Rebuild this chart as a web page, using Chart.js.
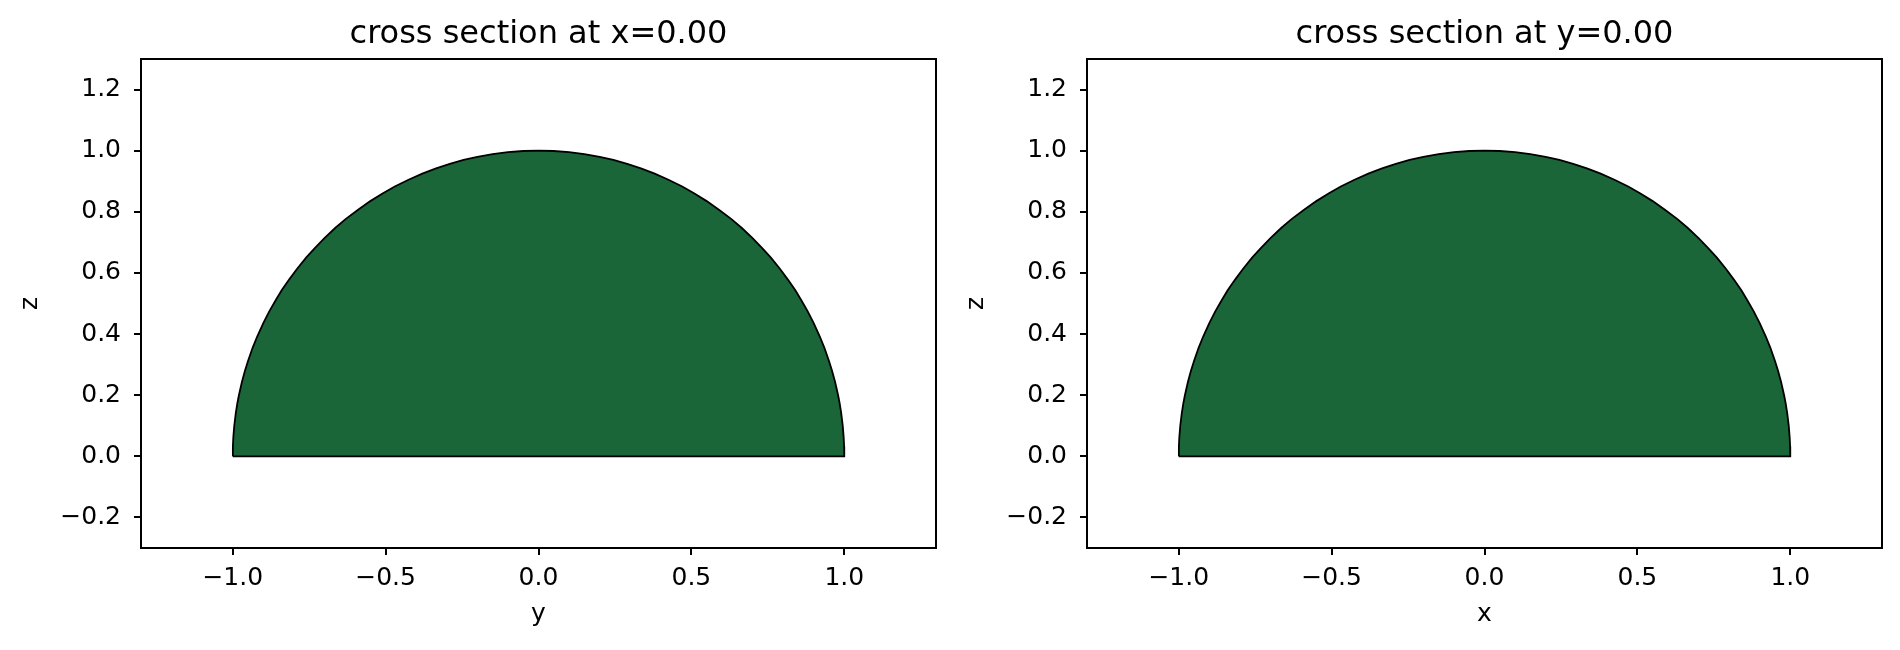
<!DOCTYPE html>
<html>
<head>
<meta charset="utf-8">
<script src="https://cdn.jsdelivr.net/npm/chart.js@4.4.1/dist/chart.umd.min.js"></script>
<style>
  html, body { margin: 0; padding: 0; background: #fff; }
  #wrap { position: relative; width: 1900px; height: 650px; overflow: hidden; }
  .panel { position: absolute; top: 0; width: 950px; height: 650px; }
</style>
</head>
<body>
<div id="wrap">
  <div class="panel" style="left:0"><canvas id="leftChart" width="950" height="650"></canvas></div>
  <div class="panel" style="left:946px"><canvas id="rightChart" width="950" height="650"></canvas></div>
</div>
<script>
// outline of the cross section (both panels show the same half disc)
// start at the left corner, go over the top, then back along z=0
const outlineH = [
  -1.000, -0.9995, -0.998, -0.995, -0.990, -0.985, -0.980, -0.970, -0.960, -0.950,
  -0.935, -0.920, -0.900, -0.880, -0.860, -0.840, -0.815, -0.790, -0.760, -0.730,
  -0.700, -0.665, -0.630, -0.590, -0.550, -0.510, -0.470, -0.425, -0.380, -0.335,
  -0.290, -0.245, -0.200, -0.150, -0.100, -0.050, 0.000,
  0.050, 0.100, 0.150, 0.200, 0.245, 0.290, 0.335, 0.380, 0.425, 0.470,
  0.510, 0.550, 0.590, 0.630, 0.665, 0.700, 0.730, 0.760, 0.790, 0.815,
  0.840, 0.860, 0.880, 0.900, 0.920, 0.935, 0.950, 0.960, 0.970, 0.980,
  0.985, 0.990, 0.995, 0.998, 0.9995, 1.000,
  -1.000
];
const outlineZ = [
  0.000, 0.032, 0.063, 0.100, 0.141, 0.173, 0.199, 0.243, 0.280, 0.312,
  0.355, 0.392, 0.436, 0.475, 0.510, 0.543, 0.579, 0.613, 0.650, 0.683,
  0.714, 0.747, 0.777, 0.807, 0.835, 0.860, 0.883, 0.905, 0.925, 0.942,
  0.957, 0.970, 0.980, 0.989, 0.995, 0.999, 1.000,
  0.999, 0.995, 0.989, 0.980, 0.970, 0.957, 0.942, 0.925, 0.905, 0.883,
  0.860, 0.835, 0.807, 0.777, 0.747, 0.714, 0.683, 0.650, 0.613, 0.579,
  0.543, 0.510, 0.475, 0.436, 0.392, 0.355, 0.312, 0.280, 0.243, 0.199,
  0.173, 0.141, 0.100, 0.063, 0.032, 0.000,
  0.000
];

const hTicks = [-1.0, -0.5, 0.0, 0.5, 1.0];
const zTicks = [-0.2, 0.0, 0.2, 0.4, 0.6, 0.8, 1.0, 1.2];
const hRange = [-1.3, 1.3];
const zRange = [-0.3, 1.3];

const panels = [
  { id: 'leftChart', title: 'cross section at x=0.00', xLabel: 'y', yLabel: 'z' },
  { id: 'rightChart', title: 'cross section at y=0.00', xLabel: 'x', yLabel: 'z' }
];

const FONT = 'DejaVu Sans';
const fillColor = 'rgb(26, 102, 56)';

const fmt = v => Number(v).toFixed(1).replace('-', '\u2212');

// matplotlib style box around the axes, title centred over the axes
const frame = {
  id: 'frame',
  afterDraw(chart, args, opts) {
    const a = chart.chartArea, ctx = chart.ctx;
    ctx.save();
    ctx.strokeStyle = '#000';
    ctx.lineWidth = 2;
    ctx.strokeRect(a.left, a.top, a.right - a.left, a.bottom - a.top);
    ctx.fillStyle = '#000';
    ctx.font = '32px "' + FONT + '"';
    ctx.textAlign = 'center';
    ctx.textBaseline = 'alphabetic';
    ctx.fillText(opts.text, (a.left + a.right) / 2, 43);
    ctx.restore();
  }
};

function points() {
  return outlineH.map((h, i) => ({ x: h, y: outlineZ[i] }));
}

panels.forEach(p => {
  new Chart(document.getElementById(p.id), {
    type: 'scatter',
    data: {
      datasets: [{
        data: points(),
        showLine: true,
        fill: 'shape',
        backgroundColor: fillColor,
        borderColor: '#000',
        borderWidth: 1.8,
        pointRadius: 0,
        tension: 0
      }]
    },
    options: {
      responsive: false,
      animation: false,
      devicePixelRatio: 1,
      layout: { padding: { left: 0, right: 14, top: 59, bottom: 0 } },
      plugins: {
        legend: { display: false },
        tooltip: { enabled: false },
        title: { display: false },
        frame: { text: p.title }
      },
      scales: {
        x: {
          type: 'linear',
          min: hRange[0],
          max: hRange[1],
          afterBuildTicks: s => { s.ticks = hTicks.map(v => ({ value: v })); },
          afterFit: s => { s.height = 102; },
          grid: { drawOnChartArea: false, color: '#000', tickLength: 7, lineWidth: 2 },
          border: { display: true, color: '#000', width: 2 },
          ticks: {
            color: '#000', padding: 8, maxRotation: 0,
            font: { family: FONT, size: 25 },
            callback: fmt
          },
          title: {
            display: true, text: p.xLabel, color: '#000',
            font: { family: FONT, size: 25, lineHeight: 1.2 },
            padding: { top: 0, bottom: 21 }
          }
        },
        y: {
          type: 'linear',
          min: zRange[0],
          max: zRange[1],
          afterBuildTicks: s => { s.ticks = zTicks.map(v => ({ value: v })); },
          afterFit: s => { s.width = 141; },
          grid: { drawOnChartArea: false, color: '#000', tickLength: 7, lineWidth: 2 },
          border: { display: true, color: '#000', width: 2 },
          ticks: {
            color: '#000', padding: 13,
            font: { family: FONT, size: 25 },
            callback: fmt
          },
          title: {
            display: true, text: p.yLabel, color: '#000',
            font: { family: FONT, size: 25, lineHeight: 1.2 },
            padding: { top: 15, bottom: 0 }
          }
        }
      }
    },
    plugins: [frame]
  });
});
</script>
</body>
</html>
